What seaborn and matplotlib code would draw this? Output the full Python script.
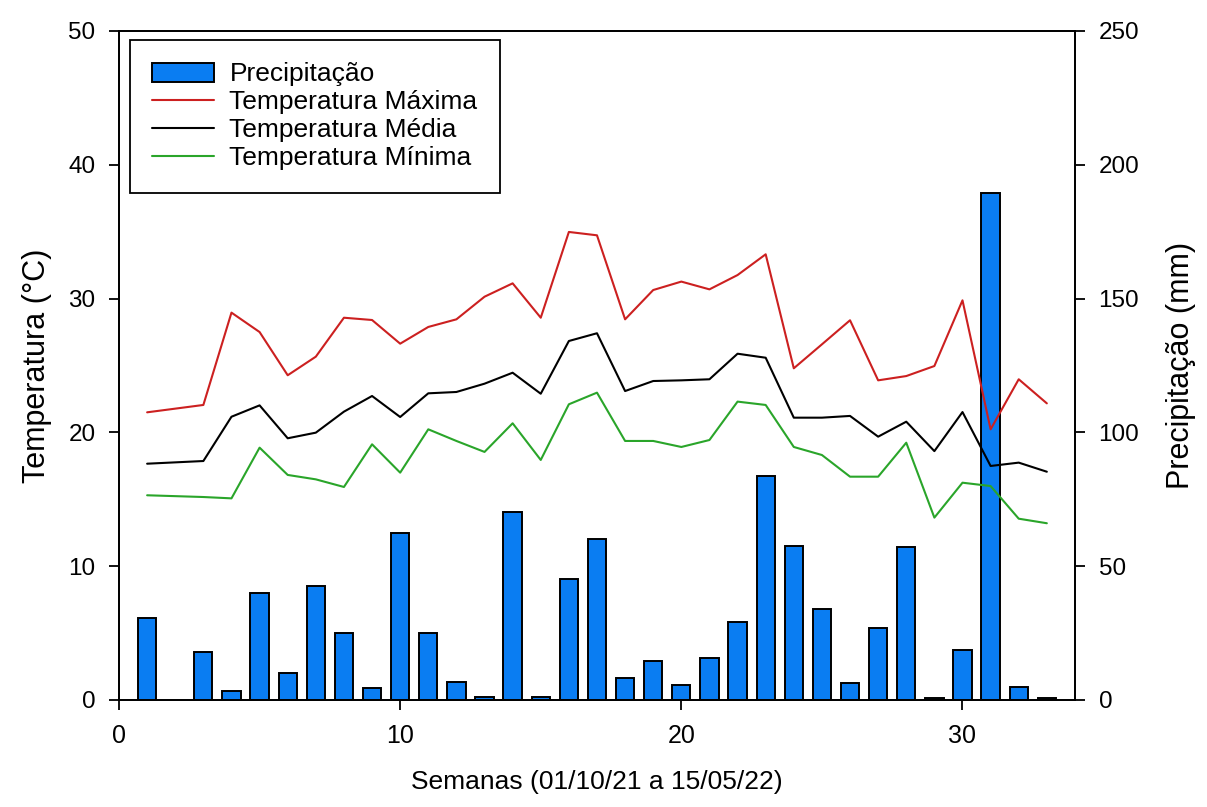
import matplotlib
matplotlib.use("Agg")
import matplotlib.pyplot as plt
from matplotlib.patches import Patch
from matplotlib.lines import Line2D
import seaborn as sns
import pandas as pd

weeks = [1, 3, 4, 5, 6, 7, 8, 9, 10, 11, 12, 13, 14, 15, 16, 17, 18, 19, 20,
         21, 22, 23, 24, 25, 26, 27, 28, 29, 30, 31, 32, 33]
precip = [30.7, 18.1, 3.4, 39.9, 10.2, 42.7, 25.0, 4.4, 62.3, 24.9, 6.8, 1.3,
          70.1, 1.2, 45.1, 60.0, 8.3, 14.6, 5.6, 15.6, 29.0, 83.8, 57.5, 34.1,
          6.4, 27.0, 57.2, 0.9, 18.6, 189.6, 4.9, 0.8]
tmax = [21.5, 22.05, 28.95, 27.5, 24.27, 25.66, 28.57, 28.4, 26.63, 27.88, 28.45,
        30.14, 31.14, 28.57, 34.98, 34.73, 28.45, 30.64, 31.27, 30.69, 31.76, 33.31,
        24.79, 26.58, 28.38, 23.89, 24.21, 24.96, 29.87, 20.23, 23.97, 22.17]
tmed = [17.66, 17.86, 21.17, 22.02, 19.56, 19.98, 21.55, 22.72, 21.15, 22.92, 23.02,
        23.64, 24.46, 22.89, 26.83, 27.41, 23.09, 23.84, 23.89, 23.97, 25.88, 25.58,
        21.1, 21.1, 21.23, 19.68, 20.8, 18.6, 21.52, 17.49, 17.74, 17.06]
tmin = [15.3, 15.17, 15.07, 18.86, 16.82, 16.49, 15.92, 19.11, 16.99, 20.23, 19.36,
        18.54, 20.68, 17.94, 22.1, 22.97, 19.36, 19.36, 18.91, 19.43, 22.3, 22.05,
        18.91, 18.31, 16.69, 16.69, 19.23, 13.63, 16.24, 15.99, 13.55, 13.21]

labels = ["Precipitação", "Temperatura Máxima", "Temperatura Média", "Temperatura Mínima"]
bar_color = "#0A7DF2"
line_colors = ["#CC2020", "#000000", "#2AA52A"]

sns.set_theme(style="ticks")
plt.rcParams["font.family"] = ["Liberation Sans", "DejaVu Sans"]
plt.rcParams["text.color"] = "black"
plt.rcParams["axes.labelcolor"] = "black"
plt.rcParams["xtick.color"] = "black"
plt.rcParams["ytick.color"] = "black"

df = pd.DataFrame({"week": weeks, "precip": precip, "tmax": tmax, "tmed": tmed, "tmin": tmin})

fig = plt.figure(figsize=(12.07, 8.07), dpi=100)
ax = fig.add_axes([0.0986, 0.1326, 0.7920, 0.8290])
ax2 = ax.twinx()

sns.barplot(data=df, x="week", y="precip", native_scale=True, width=0.65,
            color=bar_color, edgecolor="black", linewidth=1.4, saturation=1,
            ax=ax2, zorder=2)

for col, c in zip(["tmax", "tmed", "tmin"], line_colors):
    sns.lineplot(data=df, x="week", y=col, color=c, linewidth=1.5, ax=ax)

ax.set_zorder(ax2.get_zorder() + 1)
ax.patch.set_visible(False)

ax.set_xlim(0, 34)
ax.set_ylim(0, 50)
ax2.set_ylim(0, 250)
ax.set_xticks([0, 10, 20, 30])
ax.set_yticks([0, 10, 20, 30, 40, 50])
ax2.set_yticks([0, 50, 100, 150, 200, 250])

for a in (ax, ax2):
    for s in a.spines.values():
        s.set_visible(True)
        s.set_linewidth(1.3)
        s.set_color("black")
    a.tick_params(direction="out", length=7, width=1.3, colors="black", labelsize=17.5)

ax.set_xticklabels(["0", "10", "20", "30"], fontsize=18)
ax.tick_params(axis="x", pad=10)
ax.tick_params(axis="y", pad=10)
ax2.tick_params(axis="y", pad=10)
ax.set_xlabel("Semanas (01/10/21 a 15/05/22)", fontsize=19, labelpad=16)
ax.set_ylabel("Temperatura (°C)", fontsize=22, labelpad=12)
ax2.set_ylabel("Precipitação (mm)", fontsize=22, labelpad=19)
ax2.set_xlabel("")

handles = [Patch(facecolor=bar_color, edgecolor="black", linewidth=1.4)] + \
          [Line2D([0], [0], color=c, linewidth=1.5) for c in line_colors]
leg = ax.legend(handles, labels, loc="upper left", bbox_to_anchor=(0.0115, 0.9865),
                borderaxespad=0, fontsize=19, frameon=True, fancybox=False,
                framealpha=1, edgecolor="black", handlelength=2.35, handleheight=0.75,
                labelspacing=0.15, borderpad=0.85, handletextpad=0.57)
leg.get_frame().set_linewidth(1.3)

fig.savefig("out.png", dpi=100)
